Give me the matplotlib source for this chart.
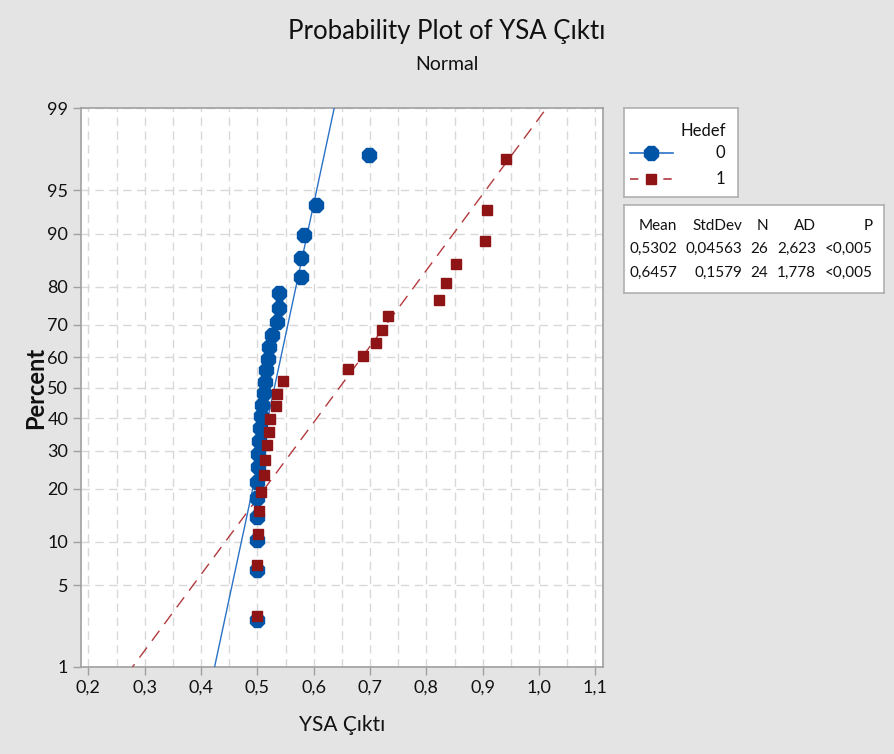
from statistics import NormalDist
import numpy as np
import matplotlib
matplotlib.use('Agg')
import matplotlib.pyplot as plt
from matplotlib.lines import Line2D

# data (sorted values per group)
hedef0 = [0.500, 0.500, 0.500, 0.500, 0.500, 0.500, 0.501, 0.502, 0.503, 0.505,
          0.506, 0.509, 0.511, 0.514, 0.516, 0.519, 0.521, 0.526, 0.535, 0.539,
          0.539, 0.578, 0.578, 0.583, 0.604, 0.698]
hedef1 = [0.500, 0.500, 0.501, 0.503, 0.507, 0.512, 0.514, 0.517, 0.521, 0.523,
          0.533, 0.535, 0.546, 0.661, 0.688, 0.711, 0.721, 0.732, 0.822, 0.835,
          0.852, 0.904, 0.907, 0.941]

groups = ['0', '1']
means = ['0,5302', '0,6457']
stdevs = ['0,04563', '0,1579']
ns = ['26', '24']
ads = ['2,623', '1,778']
pvals = ['<0,005', '<0,005']

pct_ticks = [1, 5, 10, 20, 30, 40, 50, 60, 70, 80, 90, 95, 99]
x_ticks = [0.2, 0.3, 0.4, 0.5, 0.6, 0.7, 0.8, 0.9, 1.0, 1.1]

nd = NormalDist()

def z(p):
    return nd.inv_cdf(p)

def median_rank_z(n):
    # Minitab style plotting positions
    return [z((i - 0.3) / (n + 0.4)) for i in range(1, n + 1)]

def num(s):
    return float(s.replace(',', '.'))

def fmt(v):
    return ('%.1f' % v).replace('.', ',')

plt.rcParams['font.family'] = ['Lato', 'DejaVu Sans']

BG = '#E4E4E4'
BLUE = '#0054A6'
BLUE_LINE = '#2A72C8'
RED = '#8E1416'
RED_LINE = '#B23A3E'
GRID = '#D8D8D8'
SPINE = '#A0A0A0'
TXT = '#111111'

fig = plt.figure(figsize=(8.94, 7.54), dpi=100, facecolor=BG)
ax = fig.add_axes([0.0903, 0.1154, 0.5839, 0.741])
ax.set_facecolor('white')

zlo, zhi = z(0.01), z(0.99)

# fitted normal lines from the table's mean and stdev
zz = np.array([zlo - 0.2, zhi + 0.2])
ax.plot(num(means[0]) + num(stdevs[0]) * zz, zz, color=BLUE_LINE, lw=1.0, zorder=3)
ax.plot(num(means[1]) + num(stdevs[1]) * zz, zz, color=RED_LINE, lw=1.0,
        dashes=(9, 6), zorder=3)

# points
ax.plot(hedef0, median_rank_z(len(hedef0)), ls='none', marker='8', ms=10.5,
        color=BLUE, mec=BLUE, zorder=4)
ax.plot(hedef1, median_rank_z(len(hedef1)), ls='none', marker='s', ms=6.5,
        color=RED, mec=RED, zorder=5)

ax.set_ylim(zlo, zhi)
ax.set_xlim(0.1865, 1.113)
ax.set_yticks([z(p / 100) for p in pct_ticks])
ax.set_yticklabels([str(p) for p in pct_ticks])
ax.set_xticks(x_ticks)
ax.set_xticklabels([fmt(v) for v in x_ticks])
ax.set_xticks(np.arange(0.25, 1.1, 0.1), minor=True)
ax.tick_params(which='minor', length=0)

ax.grid(True, which='both', axis='x', color=GRID, ls=(0, (6, 4)), lw=1.0)
ax.grid(True, which='major', axis='y', color=GRID, ls=(0, (6, 4)), lw=1.0)
ax.set_axisbelow(True)

for s in ax.spines.values():
    s.set_color(SPINE)
    s.set_linewidth(1.2)
ax.tick_params(which='major', length=6, width=1, color=SPINE,
               labelsize=13, labelcolor=TXT, pad=3)

ax.set_xlabel('YSA Çıktı', fontsize=15, labelpad=14, color=TXT)
ax.set_ylabel('Percent', fontsize=17, fontweight='bold', labelpad=0, color=TXT)

fig.text(0.5, 1 - 32 / 754, 'Probability Plot of YSA Çıktı', ha='center',
         va='center', fontsize=18.5, color=TXT)
fig.text(0.5, 1 - 65 / 754, 'Normal', ha='center', va='center', fontsize=14,
         color=TXT)

# legend box
W, H = 894.0, 754.0
lax = fig.add_axes([624 / W, 1 - 197 / H, 114 / W, 89 / H])
lax.set_xlim(624, 738)
lax.set_ylim(197, 108)
lax.set_xticks([])
lax.set_yticks([])
lax.set_facecolor('white')
for s in lax.spines.values():
    s.set_color('#B0B0B0')
    s.set_linewidth(1.2)
lax.text(726, 131, 'Hedef', ha='right', va='center', fontsize=12, color=TXT)
lax.add_line(Line2D([630, 673], [153, 153], color=BLUE_LINE, lw=1.2))
lax.add_line(Line2D([651], [153], marker='8', ms=10.5, color=BLUE, ls='none'))
lax.add_line(Line2D([630, 673], [179, 179], color=RED_LINE, lw=1.2,
                    dashes=(5, 5)))
lax.add_line(Line2D([651], [179], marker='s', ms=6.5, color=RED, ls='none'))
for g, yy in zip(groups, [153, 179]):
    lax.text(725, yy, g, ha='right', va='center', fontsize=12, color=TXT)

# stats table
tax = fig.add_axes([624 / W, 1 - 293 / H, 260 / W, 88 / H])
tax.set_xlim(624, 884)
tax.set_ylim(293, 205)
tax.set_xticks([])
tax.set_yticks([])
tax.set_facecolor('white')
for s in tax.spines.values():
    s.set_color('#B0B0B0')
    s.set_linewidth(1.2)
col_x = [677, 742, 768, 816, 873]
header = ['Mean', 'StdDev', 'N', 'AD', 'P']
for cx, h in zip(col_x, header):
    tax.text(cx, 226, h, ha='right', va='center', fontsize=11, color=TXT)
for k, yy in enumerate([249, 273]):
    row = [means[k], stdevs[k], ns[k], ads[k], pvals[k]]
    for cx, t in zip(col_x, row):
        tax.text(cx, yy, t, ha='right', va='center', fontsize=11, color=TXT)

fig.savefig('out.png', dpi=100, facecolor=BG)
